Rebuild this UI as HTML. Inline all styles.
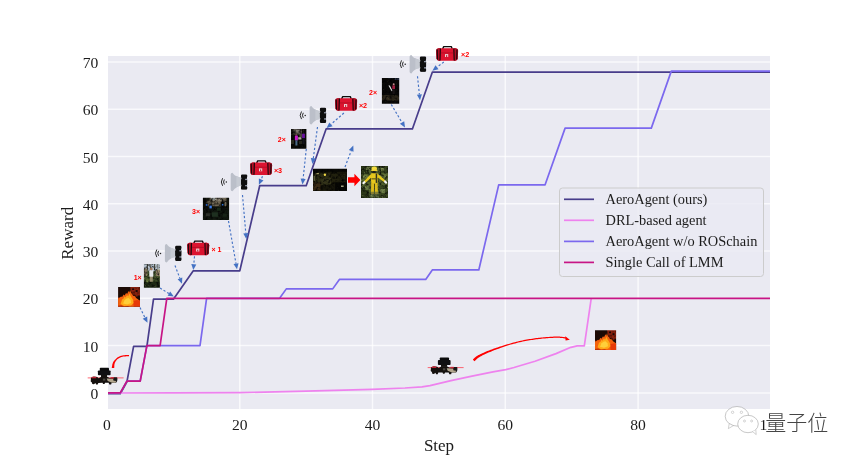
<!DOCTYPE html>
<html><head><meta charset="utf-8"><title>Reward vs Step</title>
<style>
html,body{margin:0;padding:0;background:#fff;}
body{width:856px;height:460px;overflow:hidden;}
svg{display:block;}
text{font-family:"Liberation Serif","Noto Serif CJK SC",serif;fill:#1c1c1c;}
.tick text{font-size:15.6px;}
.grid line{stroke:#fff;stroke-width:1.5;stroke-opacity:0.72;}
.ln{fill:none;stroke-width:1.7;stroke-linejoin:round;}
.da{stroke:#4472c4;stroke-width:1.15;stroke-dasharray:2.2 2;fill:none;}
.ah{fill:#4472c4;}
text.red{font-family:"Liberation Sans",sans-serif;font-weight:bold;fill:#f00;font-size:7.7px;}
</style></head><body>
<svg width="856" height="460" viewBox="0 0 856 460">
<rect width="856" height="460" fill="#fff"/>
<rect x="108" y="56" width="662" height="353" fill="#eaeaf2"/>
<clipPath id="pc"><rect x="108" y="56" width="662" height="353"/></clipPath>
<g class="grid" clip-path="url(#pc)">
<line x1="239.8" y1="56" x2="239.8" y2="409" />
<line x1="372.5" y1="56" x2="372.5" y2="409" />
<line x1="505.3" y1="56" x2="505.3" y2="409" />
<line x1="638.1" y1="56" x2="638.1" y2="409" />
<line x1="770.8" y1="56" x2="770.8" y2="409" />
<line x1="108" y1="392.9" x2="770" y2="392.9" />
<line x1="108" y1="345.6" x2="770" y2="345.6" />
<line x1="108" y1="298.3" x2="770" y2="298.3" />
<line x1="108" y1="251" x2="770" y2="251" />
<line x1="108" y1="203.8" x2="770" y2="203.8" />
<line x1="108" y1="156.5" x2="770" y2="156.5" />
<line x1="108" y1="109.2" x2="770" y2="109.2" />
<line x1="108" y1="61.9" x2="770" y2="61.9" />
</g>
<g clip-path="url(#pc)">
<polyline class="ln" stroke="#483d8b" points="107,393.75 120.3,393.75 126.9,381.93 133.6,346.46 146.9,346.46 153.5,299.18 173.4,299.18 193.3,270.81 239.8,270.81 259.7,185.69 306.2,185.69 326.1,128.95 412.4,128.95 432.3,72.21 774.8,72.21"/>
<polyline class="ln" stroke="#ee82ee" points="108,393 174,392.9 240,392.6 306,391.2 372,389.3 405,388 422,386.9 430,385.6 451,380.6 472,376.1 493,371.9 505.7,369.6 514,367.5 535,361.2 556,353.6 570.9,347.3 577.2,345.8 584.3,345.8 591.2,298.6"/>
<polyline class="ln" stroke="#7b68ee" points="107,392.9 120.3,392.9 126.9,381.08 140.2,381.08 146.9,345.61 200,345.61 206.6,298.33 279.6,298.33 286.3,288.87 332.7,288.87 339.4,279.41 425.7,279.41 432.3,269.96 478.8,269.96 498.7,184.84 545.1,184.84 565.1,128.1 651.3,128.1 671.3,71.12 774.8,71.12"/>
<polyline class="ln" stroke="#c71585" points="107,392.9 120.3,392.9 126.9,381.08 140.2,381.08 146.9,345.61 160.1,345.61 166.8,298.33 774.8,298.33"/>
</g>
<g class="tick">
<text x="107" y="429.5" text-anchor="middle">0</text>
<text x="239.8" y="429.5" text-anchor="middle">20</text>
<text x="372.5" y="429.5" text-anchor="middle">40</text>
<text x="505.3" y="429.5" text-anchor="middle">60</text>
<text x="638.1" y="429.5" text-anchor="middle">80</text>
<text x="98.3" y="398.9" text-anchor="end">0</text>
<text x="98.3" y="351.6" text-anchor="end">10</text>
<text x="98.3" y="304.3" text-anchor="end">20</text>
<text x="98.3" y="257" text-anchor="end">30</text>
<text x="98.3" y="209.8" text-anchor="end">40</text>
<text x="98.3" y="162.5" text-anchor="end">50</text>
<text x="98.3" y="115.2" text-anchor="end">60</text>
<text x="98.3" y="67.9" text-anchor="end">70</text>
</g>
<text x="439" y="450.5" text-anchor="middle" font-size="17">Step</text>
<text transform="translate(73.2,233.3) rotate(-90)" text-anchor="middle" font-size="17">Reward</text>
<g id="legend">
<rect x="559.5" y="188" width="204" height="88.5" rx="3" ry="3" fill="#eaeaf2" fill-opacity="0.8" stroke="#cccccc" stroke-width="1"/>
<line x1="564" y1="199.3" x2="594" y2="199.3" stroke="#483d8b" stroke-width="1.7"/>
<text x="605.5" y="204.1" font-size="14.4">AeroAgent (ours)</text>
<line x1="564" y1="220.3" x2="594" y2="220.3" stroke="#ee82ee" stroke-width="1.7"/>
<text x="605.5" y="225.1" font-size="14.4">DRL-based agent</text>
<line x1="564" y1="241.4" x2="594" y2="241.4" stroke="#7b68ee" stroke-width="1.7"/>
<text x="605.5" y="246.2" font-size="14.4">AeroAgent w/o ROSchain</text>
<line x1="564" y1="262.4" x2="594" y2="262.4" stroke="#c71585" stroke-width="1.7"/>
<text x="605.5" y="267.2" font-size="14.4">Single Call of LMM</text>
</g>
<g id="arrows">
<line class="da" x1="140" y1="307.5" x2="144.9" y2="317.6"/><polygon class="ah" points="147.5,322.8 142.7,318.7 147.2,316.5"/>
<line class="da" x1="160" y1="288" x2="168.9" y2="293.5"/><polygon class="ah" points="173.8,296.6 167.6,295.7 170.2,291.4"/>
<line class="da" x1="175" y1="265.5" x2="179.9" y2="278.4"/><polygon class="ah" points="182,283.8 177.6,279.3 182.3,277.5"/>
<line class="da" x1="194.5" y1="256.3" x2="193.8" y2="264.2"/><polygon class="ah" points="193.3,270 191.3,264 196.3,264.4"/>
<line class="da" x1="228.5" y1="221" x2="236" y2="263.6"/><polygon class="ah" points="237,269.3 233.5,264 238.5,263.2"/>
<line class="da" x1="242.5" y1="195" x2="245.8" y2="233.2"/><polygon class="ah" points="246.3,239 243.3,233.4 248.3,233"/>
<line class="da" x1="262.5" y1="176.3" x2="261.2" y2="179.5"/><polygon class="ah" points="258.9,184.8 258.9,178.5 263.5,180.4"/>
<line class="da" x1="306.3" y1="149" x2="303.1" y2="178.7"/><polygon class="ah" points="302.5,184.5 300.6,178.5 305.6,179"/>
<line class="da" x1="317.5" y1="127" x2="313.3" y2="158.3"/><polygon class="ah" points="312.5,164 310.8,157.9 315.8,158.6"/>
<line class="da" x1="343.9" y1="113" x2="331" y2="124.3"/><polygon class="ah" points="326.6,128.1 329.3,122.4 332.6,126.2"/>
<line class="da" x1="345" y1="167" x2="351.2" y2="150.9"/><polygon class="ah" points="353.3,145.5 353.5,151.8 348.9,150"/>
<line class="da" x1="391.3" y1="104.5" x2="402" y2="122.5"/><polygon class="ah" points="405,127.5 399.9,123.8 404.2,121.2"/>
<line class="da" x1="417.5" y1="76.3" x2="419.4" y2="94.5"/><polygon class="ah" points="420,100.3 416.9,94.8 421.9,94.3"/>
<line class="da" x1="443.8" y1="62" x2="437" y2="67.2"/><polygon class="ah" points="432.4,70.7 435.5,65.2 438.5,69.2"/>
</g>
<defs>
<filter id="soft" x="-0.2" y="-0.2" width="1.4" height="1.4" color-interpolation-filters="sRGB">
<feGaussianBlur in="SourceGraphic" stdDeviation="0.45"/>
</filter>
<filter id="tex" x="0" y="0" width="1" height="1" color-interpolation-filters="sRGB">
<feGaussianBlur in="SourceGraphic" stdDeviation="0.7" result="b"/>
<feTurbulence type="fractalNoise" baseFrequency="0.38" numOctaves="2" seed="7" result="n"/>
<feColorMatrix in="n" type="matrix" values="0 0 0 0 0  0 0 0 0 0  0 0 0 0 0  2.2 0 0 0 -0.95" result="dk"/>
<feColorMatrix in="n" type="matrix" values="0 0 0 0 0.75  0 0 0 0 0.8  0 0 0 0 0.5  0 -2 0 0 0.72" result="lt"/>
<feComposite in="dk" in2="b" operator="atop" result="c1"/>
<feComposite in="lt" in2="c1" operator="atop"/>
</filter>
<filter id="texd" x="0" y="0" width="1" height="1" color-interpolation-filters="sRGB">
<feGaussianBlur in="SourceGraphic" stdDeviation="0.7" result="b"/>
<feTurbulence type="fractalNoise" baseFrequency="0.38" numOctaves="2" seed="11" result="n"/>
<feColorMatrix in="n" type="matrix" values="0 0 0 0 0  0 0 0 0 0  0 0 0 0 0  2.2 0 0 0 -0.9" result="dk"/>
<feColorMatrix in="n" type="matrix" values="0 0 0 0 0.35  0 0 0 0 0.36  0 0 0 0 0.2  0 -2 0 0 0.62" result="lt"/>
<feComposite in="dk" in2="b" operator="atop" result="c1"/>
<feComposite in="lt" in2="c1" operator="atop"/>
</filter>
<filter id="tex2" x="0" y="0" width="1" height="1" color-interpolation-filters="sRGB">
<feGaussianBlur in="SourceGraphic" stdDeviation="0.6" result="b"/>
<feTurbulence type="fractalNoise" baseFrequency="0.4" numOctaves="2" seed="3" result="n"/>
<feColorMatrix in="n" type="matrix" values="0 0 0 0 0.15  0 0 0 0 0.02  0 0 0 0 0  2 0 0 0 -0.95" result="dk"/>
<feComposite in="dk" in2="b" operator="atop"/>
</filter>
</defs>
<g id="icons">
<g transform="translate(154.9,253.3)">
<path d="M1.9,-3.8 Q-0.7,0 1.9,3.8 M3.7,-2.5 Q2,0 3.7,2.5" fill="none" stroke="#1e1e1e" stroke-width="0.95"/>
<circle cx="5.6" cy="0.1" r="0.75" fill="#1e1e1e"/>
<path d="M10,-7.5 Q10,-9.3 11.8,-9.3 C13,-7.5 14.5,-6.3 15.7,-5.9 C17,-5 18.5,-4.4 20.8,-4.2 L20.8,3.7 C18.5,3.8 17,4.5 15.7,5.4 C14.5,6.2 13,7.5 11.8,9.3 Q10,9.3 10,7.5 Z" fill="#bbbfc9"/>
<path d="M15.7,-5.9 C17,-5 18.5,-4.4 20.8,-4.2 L20.8,3.7 C18.5,3.8 17,4.5 15.7,5.4 Z" fill="#c6cad2"/>
<rect x="20.7" y="-7" width="5.5" height="14.2" rx="1.2" fill="#0e0e0e"/>
<rect x="20.3" y="-7.6" width="6.2" height="3.6" rx="1.2" fill="#0e0e0e"/>
<rect x="20.3" y="-3" width="6.2" height="6" rx="1" fill="#0e0e0e"/>
<rect x="20.3" y="4" width="6.2" height="3.6" rx="1.2" fill="#0e0e0e"/>
<rect x="24.4" y="-3.2" width="2.1" height="1.3" fill="#8d93a3"/>
<rect x="24.4" y="3" width="2.1" height="1.3" fill="#8d93a3"/>
</g>
<g transform="translate(220.7,182)">
<path d="M1.9,-3.8 Q-0.7,0 1.9,3.8 M3.7,-2.5 Q2,0 3.7,2.5" fill="none" stroke="#1e1e1e" stroke-width="0.95"/>
<circle cx="5.6" cy="0.1" r="0.75" fill="#1e1e1e"/>
<path d="M10,-7.5 Q10,-9.3 11.8,-9.3 C13,-7.5 14.5,-6.3 15.7,-5.9 C17,-5 18.5,-4.4 20.8,-4.2 L20.8,3.7 C18.5,3.8 17,4.5 15.7,5.4 C14.5,6.2 13,7.5 11.8,9.3 Q10,9.3 10,7.5 Z" fill="#bbbfc9"/>
<path d="M15.7,-5.9 C17,-5 18.5,-4.4 20.8,-4.2 L20.8,3.7 C18.5,3.8 17,4.5 15.7,5.4 Z" fill="#c6cad2"/>
<rect x="20.7" y="-7" width="5.5" height="14.2" rx="1.2" fill="#0e0e0e"/>
<rect x="20.3" y="-7.6" width="6.2" height="3.6" rx="1.2" fill="#0e0e0e"/>
<rect x="20.3" y="-3" width="6.2" height="6" rx="1" fill="#0e0e0e"/>
<rect x="20.3" y="4" width="6.2" height="3.6" rx="1.2" fill="#0e0e0e"/>
<rect x="24.4" y="-3.2" width="2.1" height="1.3" fill="#8d93a3"/>
<rect x="24.4" y="3" width="2.1" height="1.3" fill="#8d93a3"/>
</g>
<g transform="translate(299.6,115.3)">
<path d="M1.9,-3.8 Q-0.7,0 1.9,3.8 M3.7,-2.5 Q2,0 3.7,2.5" fill="none" stroke="#1e1e1e" stroke-width="0.95"/>
<circle cx="5.6" cy="0.1" r="0.75" fill="#1e1e1e"/>
<path d="M10,-7.5 Q10,-9.3 11.8,-9.3 C13,-7.5 14.5,-6.3 15.7,-5.9 C17,-5 18.5,-4.4 20.8,-4.2 L20.8,3.7 C18.5,3.8 17,4.5 15.7,5.4 C14.5,6.2 13,7.5 11.8,9.3 Q10,9.3 10,7.5 Z" fill="#bbbfc9"/>
<path d="M15.7,-5.9 C17,-5 18.5,-4.4 20.8,-4.2 L20.8,3.7 C18.5,3.8 17,4.5 15.7,5.4 Z" fill="#c6cad2"/>
<rect x="20.7" y="-7" width="5.5" height="14.2" rx="1.2" fill="#0e0e0e"/>
<rect x="20.3" y="-7.6" width="6.2" height="3.6" rx="1.2" fill="#0e0e0e"/>
<rect x="20.3" y="-3" width="6.2" height="6" rx="1" fill="#0e0e0e"/>
<rect x="20.3" y="4" width="6.2" height="3.6" rx="1.2" fill="#0e0e0e"/>
<rect x="24.4" y="-3.2" width="2.1" height="1.3" fill="#8d93a3"/>
<rect x="24.4" y="3" width="2.1" height="1.3" fill="#8d93a3"/>
</g>
<g transform="translate(399.6,64.2)">
<path d="M1.9,-3.8 Q-0.7,0 1.9,3.8 M3.7,-2.5 Q2,0 3.7,2.5" fill="none" stroke="#1e1e1e" stroke-width="0.95"/>
<circle cx="5.6" cy="0.1" r="0.75" fill="#1e1e1e"/>
<path d="M10,-7.5 Q10,-9.3 11.8,-9.3 C13,-7.5 14.5,-6.3 15.7,-5.9 C17,-5 18.5,-4.4 20.8,-4.2 L20.8,3.7 C18.5,3.8 17,4.5 15.7,5.4 C14.5,6.2 13,7.5 11.8,9.3 Q10,9.3 10,7.5 Z" fill="#bbbfc9"/>
<path d="M15.7,-5.9 C17,-5 18.5,-4.4 20.8,-4.2 L20.8,3.7 C18.5,3.8 17,4.5 15.7,5.4 Z" fill="#c6cad2"/>
<rect x="20.7" y="-7" width="5.5" height="14.2" rx="1.2" fill="#0e0e0e"/>
<rect x="20.3" y="-7.6" width="6.2" height="3.6" rx="1.2" fill="#0e0e0e"/>
<rect x="20.3" y="-3" width="6.2" height="6" rx="1" fill="#0e0e0e"/>
<rect x="20.3" y="4" width="6.2" height="3.6" rx="1.2" fill="#0e0e0e"/>
<rect x="24.4" y="-3.2" width="2.1" height="1.3" fill="#8d93a3"/>
<rect x="24.4" y="3" width="2.1" height="1.3" fill="#8d93a3"/>
</g>
<g transform="translate(187.2,242.7)">
<path d="M6.4,1 L7.6,-1.6 L15.2,-1.6 L16.2,1" fill="none" stroke="#0c0c0c" stroke-width="1.4" stroke-linejoin="round"/>
<path d="M2.4,0 L19.6,0 Q22,0.2 22,2.6 L21.6,10.4 Q21.4,12.4 19.2,12.5 L2.8,12.5 Q0.6,12.4 0.4,10.4 L0,2.6 Q0,0.2 2.4,0 Z" fill="#dc1430"/>
<path d="M2.4,0 L4.4,0 L4,12.5 L2.8,12.5 Q0.6,12.4 0.4,10.4 L0,2.6 Q0,0.2 2.4,0 Z" fill="#b20f25"/>
<path d="M19.6,0 L17.6,0 L18,12.5 L19.2,12.5 Q21.4,12.4 21.6,10.4 L22,2.6 Q22,0.2 19.6,0 Z" fill="#b20f25"/>
<path d="M1.1,1.2 L1.4,11.2 M4.3,0.2 L3.9,12.3 M17.7,0.2 L18.1,12.3 M20.9,1.2 L20.6,11.2" stroke="#1c080c" stroke-width="1.15" fill="none"/>
<path d="M4.8,4.7 L17.2,4.7" stroke="#a80e22" stroke-width="0.7"/>
<rect x="8.9" y="5.9" width="3.2" height="2.9" fill="#ead6d8"/>
<rect x="10" y="6.9" width="1.1" height="1.9" fill="#c8142c"/>
</g>
<text class="red" x="211.6" y="251.5" textLength="9.9" lengthAdjust="spacingAndGlyphs">× 1</text>
<g transform="translate(250.1,162.5)">
<path d="M6.4,1 L7.6,-1.6 L15.2,-1.6 L16.2,1" fill="none" stroke="#0c0c0c" stroke-width="1.4" stroke-linejoin="round"/>
<path d="M2.4,0 L19.6,0 Q22,0.2 22,2.6 L21.6,10.4 Q21.4,12.4 19.2,12.5 L2.8,12.5 Q0.6,12.4 0.4,10.4 L0,2.6 Q0,0.2 2.4,0 Z" fill="#dc1430"/>
<path d="M2.4,0 L4.4,0 L4,12.5 L2.8,12.5 Q0.6,12.4 0.4,10.4 L0,2.6 Q0,0.2 2.4,0 Z" fill="#b20f25"/>
<path d="M19.6,0 L17.6,0 L18,12.5 L19.2,12.5 Q21.4,12.4 21.6,10.4 L22,2.6 Q22,0.2 19.6,0 Z" fill="#b20f25"/>
<path d="M1.1,1.2 L1.4,11.2 M4.3,0.2 L3.9,12.3 M17.7,0.2 L18.1,12.3 M20.9,1.2 L20.6,11.2" stroke="#1c080c" stroke-width="1.15" fill="none"/>
<path d="M4.8,4.7 L17.2,4.7" stroke="#a80e22" stroke-width="0.7"/>
<rect x="8.9" y="5.9" width="3.2" height="2.9" fill="#ead6d8"/>
<rect x="10" y="6.9" width="1.1" height="1.9" fill="#c8142c"/>
</g>
<text class="red" x="273.9" y="172.7" textLength="8.2" lengthAdjust="spacingAndGlyphs">×3</text>
<g transform="translate(335.1,98.2)">
<path d="M6.4,1 L7.6,-1.6 L15.2,-1.6 L16.2,1" fill="none" stroke="#0c0c0c" stroke-width="1.4" stroke-linejoin="round"/>
<path d="M2.4,0 L19.6,0 Q22,0.2 22,2.6 L21.6,10.4 Q21.4,12.4 19.2,12.5 L2.8,12.5 Q0.6,12.4 0.4,10.4 L0,2.6 Q0,0.2 2.4,0 Z" fill="#dc1430"/>
<path d="M2.4,0 L4.4,0 L4,12.5 L2.8,12.5 Q0.6,12.4 0.4,10.4 L0,2.6 Q0,0.2 2.4,0 Z" fill="#b20f25"/>
<path d="M19.6,0 L17.6,0 L18,12.5 L19.2,12.5 Q21.4,12.4 21.6,10.4 L22,2.6 Q22,0.2 19.6,0 Z" fill="#b20f25"/>
<path d="M1.1,1.2 L1.4,11.2 M4.3,0.2 L3.9,12.3 M17.7,0.2 L18.1,12.3 M20.9,1.2 L20.6,11.2" stroke="#1c080c" stroke-width="1.15" fill="none"/>
<path d="M4.8,4.7 L17.2,4.7" stroke="#a80e22" stroke-width="0.7"/>
<rect x="8.9" y="5.9" width="3.2" height="2.9" fill="#ead6d8"/>
<rect x="10" y="6.9" width="1.1" height="1.9" fill="#c8142c"/>
</g>
<text class="red" x="358.9" y="108.1" textLength="8.2" lengthAdjust="spacingAndGlyphs">×2</text>
<g transform="translate(436.1,48.2)">
<path d="M6.4,1 L7.6,-1.6 L15.2,-1.6 L16.2,1" fill="none" stroke="#0c0c0c" stroke-width="1.4" stroke-linejoin="round"/>
<path d="M2.4,0 L19.6,0 Q22,0.2 22,2.6 L21.6,10.4 Q21.4,12.4 19.2,12.5 L2.8,12.5 Q0.6,12.4 0.4,10.4 L0,2.6 Q0,0.2 2.4,0 Z" fill="#dc1430"/>
<path d="M2.4,0 L4.4,0 L4,12.5 L2.8,12.5 Q0.6,12.4 0.4,10.4 L0,2.6 Q0,0.2 2.4,0 Z" fill="#b20f25"/>
<path d="M19.6,0 L17.6,0 L18,12.5 L19.2,12.5 Q21.4,12.4 21.6,10.4 L22,2.6 Q22,0.2 19.6,0 Z" fill="#b20f25"/>
<path d="M1.1,1.2 L1.4,11.2 M4.3,0.2 L3.9,12.3 M17.7,0.2 L18.1,12.3 M20.9,1.2 L20.6,11.2" stroke="#1c080c" stroke-width="1.15" fill="none"/>
<path d="M4.8,4.7 L17.2,4.7" stroke="#a80e22" stroke-width="0.7"/>
<rect x="8.9" y="5.9" width="3.2" height="2.9" fill="#ead6d8"/>
<rect x="10" y="6.9" width="1.1" height="1.9" fill="#c8142c"/>
</g>
<text class="red" x="461.1" y="56.9" textLength="8.2" lengthAdjust="spacingAndGlyphs">×2</text>
<text class="red" x="133.7" y="279.7" textLength="8" lengthAdjust="spacingAndGlyphs">1×</text>
<text class="red" x="192" y="213.5" textLength="8" lengthAdjust="spacingAndGlyphs">3×</text>
<text class="red" x="277.8" y="142.3" textLength="8" lengthAdjust="spacingAndGlyphs">2×</text>
<text class="red" x="369" y="94.9" textLength="8" lengthAdjust="spacingAndGlyphs">2×</text>
<g transform="translate(90.7,367.8)">
<rect x="9.1" y="0" width="9.2" height="3.4" rx="0.7" fill="#0b0b0b"/>
<rect x="7.2" y="2.6" width="12.7" height="4.8" rx="0.9" fill="#101012"/>
<rect x="10.3" y="7.2" width="6.1" height="2.2" fill="#15120f"/>
<line x1="-3" y1="10.1" x2="32.9" y2="10.1" stroke="#ff2d3d" stroke-width="0.9" stroke-opacity="0.8"/>
<path d="M0.3,10 L3,8.8 L6.5,9.3 L8,10.4 L10.5,9 L16.5,9 L19,10.3 L22.6,9.6 L26.5,9.8 L26.5,13.2 L25.4,15 L21,15 L20.4,16.8 L18.6,16.8 L18,14.9 L14.4,15 L13.8,16.2 L12.4,16.2 L11.8,14.9 L7.6,15.1 L7,16.8 L5.4,16.8 L4.8,15.2 L3.2,16.4 L1.6,16.2 L1.2,14.6 L0,13.6 Z" fill="#15110e"/>
<path d="M16,10.8 L22.4,11 L25.4,13.2 L24.8,15 L20.6,14.8 L17,13.2 Z" fill="#b3a78f"/>
<rect x="22.6" y="9.6" width="3.9" height="3.4" rx="0.7" fill="#161616"/>
<rect x="12.2" y="10.8" width="2.4" height="2" fill="#4a4640"/>
<rect x="1.2" y="8.9" width="4.4" height="1.6" fill="#d9263a" fill-opacity="0.85"/>
<rect x="19.8" y="9.3" width="3.4" height="1.5" fill="#d9263a" fill-opacity="0.85"/>
</g>
<g transform="translate(430.7,357.5)">
<rect x="9.1" y="0" width="9.2" height="3.4" rx="0.7" fill="#0b0b0b"/>
<rect x="7.2" y="2.6" width="12.7" height="4.8" rx="0.9" fill="#101012"/>
<rect x="10.3" y="7.2" width="6.1" height="2.2" fill="#15120f"/>
<line x1="-3" y1="10.1" x2="32.9" y2="10.1" stroke="#ff2d3d" stroke-width="0.9" stroke-opacity="0.8"/>
<path d="M0.3,10 L3,8.8 L6.5,9.3 L8,10.4 L10.5,9 L16.5,9 L19,10.3 L22.6,9.6 L26.5,9.8 L26.5,13.2 L25.4,15 L21,15 L20.4,16.8 L18.6,16.8 L18,14.9 L14.4,15 L13.8,16.2 L12.4,16.2 L11.8,14.9 L7.6,15.1 L7,16.8 L5.4,16.8 L4.8,15.2 L3.2,16.4 L1.6,16.2 L1.2,14.6 L0,13.6 Z" fill="#15110e"/>
<path d="M16,10.8 L22.4,11 L25.4,13.2 L24.8,15 L20.6,14.8 L17,13.2 Z" fill="#b3a78f"/>
<rect x="22.6" y="9.6" width="3.9" height="3.4" rx="0.7" fill="#161616"/>
<rect x="12.2" y="10.8" width="2.4" height="2" fill="#4a4640"/>
<rect x="1.2" y="8.9" width="4.4" height="1.6" fill="#d9263a" fill-opacity="0.85"/>
<rect x="19.8" y="9.3" width="3.4" height="1.5" fill="#d9263a" fill-opacity="0.85"/>
</g>
<path d="M114.2,368.1 L114.2,367.8 L114.3,367.3 L114.3,366.7 L114.3,366.1 L114.3,365.5 L114.4,364.9 L114.4,364.4 L114.5,363.9 L114.7,363.5 L114.8,363.1 L115,362.6 L115.2,362.2 L115.4,361.8 L115.6,361.4 L115.9,361 L116.2,360.7 L116.4,360.3 L116.7,359.9 L117,359.6 L117.4,359.3 L117.7,359 L118.1,358.7 L118.5,358.4 L118.9,358.2 L119.4,357.9 L119.8,357.7 L120.3,357.5 L120.8,357.3 L121.4,357.1 L121.9,356.9 L122.5,356.8 L123.1,356.6 L123.8,356.5 L124.6,356.5 L125.4,356.4 L126.3,356.3 L127.1,356.3 L127.9,356.3 L128.6,356.3 L129,356.2 L129,355 L128.5,355 L127.9,355 L127.1,355 L126.2,355.1 L125.4,355.1 L124.5,355.2 L123.6,355.2 L122.9,355.4 L122.2,355.5 L121.6,355.7 L121,355.8 L120.4,356.1 L119.8,356.3 L119.3,356.5 L118.8,356.8 L118.3,357 L117.8,357.3 L117.3,357.6 L116.9,358 L116.5,358.3 L116.1,358.7 L115.8,359 L115.4,359.4 L115,359.7 L114.7,360.1 L114.4,360.5 L114,360.9 L113.7,361.3 L113.4,361.8 L113.1,362.3 L112.9,362.8 L112.7,363.3 L112.5,363.9 L112.3,364.6 L112.2,365.2 L112.1,365.9 L112,366.5 L111.9,367.1 L111.8,367.5 L111.8,367.9 Z" fill="#f00"/>
<path d="M474.4,361.3 L474.7,361 L475.1,360.7 L475.5,360.2 L476,359.7 L476.6,359.3 L477.1,358.8 L477.6,358.3 L478.1,357.9 L478.7,357.6 L479.2,357.2 L479.7,356.9 L480.3,356.5 L480.9,356.2 L481.5,355.9 L482.2,355.5 L483,355.1 L483.9,354.7 L484.8,354.2 L485.9,353.8 L486.9,353.3 L488,352.8 L489.1,352.3 L490.2,351.9 L491.3,351.4 L492.4,351 L493.5,350.5 L494.6,350.1 L495.7,349.7 L496.8,349.3 L497.9,348.9 L499.2,348.4 L500.4,348 L501.8,347.5 L503.2,347 L504.6,346.6 L506.1,346.1 L507.6,345.6 L509.2,345.1 L510.7,344.6 L512.2,344.2 L513.7,343.8 L515.2,343.4 L516.7,343 L518.2,342.6 L519.7,342.3 L521.2,341.9 L522.7,341.6 L524.1,341.3 L525.5,341 L526.9,340.7 L528.3,340.5 L529.7,340.3 L531.1,340.1 L532.4,339.9 L533.8,339.7 L535.1,339.5 L536.4,339.3 L537.6,339.2 L538.9,339 L540.1,338.9 L541.4,338.7 L542.6,338.6 L543.8,338.5 L545.1,338.4 L546.3,338.3 L547.6,338.2 L548.9,338.1 L550.2,338 L551.5,337.9 L552.7,337.9 L553.9,337.8 L555,337.8 L556,337.8 L557,337.8 L557.9,337.8 L558.8,337.8 L559.7,337.8 L560.5,337.9 L561.2,337.9 L561.9,338 L562.6,338.1 L563.3,338.2 L564,338.3 L564.6,338.4 L565.1,338.5 L565.6,338.6 L566,338.7 L566.4,338.8 L566.6,337.6 L566.3,337.5 L565.9,337.5 L565.4,337.3 L564.8,337.2 L564.2,337.1 L563.5,337 L562.8,336.9 L562.1,336.8 L561.3,336.7 L560.5,336.7 L559.7,336.6 L558.9,336.6 L558,336.6 L557,336.6 L556,336.6 L555,336.6 L553.9,336.6 L552.7,336.7 L551.4,336.7 L550.2,336.8 L548.8,336.9 L547.5,337 L546.2,337.1 L544.9,337.2 L543.7,337.3 L542.5,337.4 L541.2,337.5 L540,337.7 L538.8,337.8 L537.5,338 L536.2,338.1 L534.9,338.3 L533.6,338.5 L532.3,338.7 L530.9,338.9 L529.5,339.1 L528.1,339.3 L526.7,339.6 L525.3,339.8 L523.9,340.1 L522.4,340.4 L520.9,340.7 L519.4,341.1 L517.9,341.4 L516.4,341.8 L514.9,342.2 L513.3,342.6 L511.8,343 L510.3,343.4 L508.8,343.9 L507.3,344.3 L505.7,344.8 L504.2,345.3 L502.7,345.7 L501.3,346.2 L500,346.6 L498.7,347 L497.5,347.4 L496.3,347.8 L495.1,348.2 L494,348.6 L492.9,349 L491.8,349.4 L490.7,349.8 L489.6,350.2 L488.4,350.7 L487.3,351.1 L486.2,351.6 L485.1,352 L484.1,352.5 L483.1,352.9 L482.2,353.3 L481.4,353.7 L480.6,354 L479.9,354.4 L479.3,354.7 L478.6,355 L478,355.3 L477.5,355.7 L476.9,356.1 L476.2,356.5 L475.6,357 L475,357.5 L474.4,358 L473.9,358.5 L473.4,358.9 L473.1,359.2 L472.8,359.5 Z" fill="#f00"/>
<path d="M565.2,336.2 L569.8,339.8 L565.6,340.6 Z" fill="#f00"/>
<g transform="translate(118.1,287)"><clipPath id="f1"><rect width="21.9" height="19.8"/></clipPath>
<g clip-path="url(#f1)"><g filter="url(#tex2)"><rect x="-4" y="-4" width="29.9" height="27.8" fill="#190a05"/>
<path d="M11.5,-4 L26,-4 L26,10 L18,9.5 L14,7 L12.5,3 Z" fill="#86200e"/>
<rect x="14" y="1.5" width="2" height="1.5" fill="#1a0806"/><rect x="17.5" y="3" width="2" height="2" fill="#1a0806"/><rect x="19.5" y="8.5" width="4" height="4.5" fill="#1a0806"/>
<path d="M-4,10 L2,10.5 L3,20 L-4,24 Z" fill="#8a1c08"/>
</g><g filter="url(#soft)"><path d="M-4,24 L-4,13 L1,11 L3,9.5 L4,10 L5.5,7.5 L6.5,8.5 L8,6 L9,7 L10.5,4 L11.2,5.5 L12,3 L13,6 L14,7 L15,8.8 L17,9.3 L18,11 L19.5,12 L22,14 L26,15 L26,24 Z" fill="#f4620e"/>
<path d="M15,14 L19,13 L26,14.5 L26,24 L16,24 Z" fill="#e63a08"/>
<path d="M2.5,17 L4,12.5 L5.5,11.5 L6.5,9.5 L7.5,10.5 L9,8 L10,9.5 L11.5,6.5 L12.5,9 L13.5,10.5 L15,13 L15.5,16 L13,18.5 L6,19 Z" fill="#ffaa18"/>
<path d="M5,16.5 L6.5,13 L8.5,11.5 L10.5,11 L12.5,13 L13,16 L9,17.5 Z" fill="#ffcf3a"/>
<path d="M-2,19 L3,18.2 L6,19.6 L10,19 L12,20.5 L-2,22 Z" fill="#b02808" fill-opacity="0.8"/>
</g></g></g>
<g transform="translate(595,330.2)"><clipPath id="f2"><rect width="21.1" height="19.8"/></clipPath>
<g clip-path="url(#f2)"><g filter="url(#tex2)"><rect x="-4" y="-4" width="29.1" height="27.8" fill="#190a05"/>
<path d="M11.5,-4 L26,-4 L26,10 L18,9.5 L14,7 L12.5,3 Z" fill="#86200e"/>
<rect x="14" y="1.5" width="2" height="1.5" fill="#1a0806"/><rect x="17.5" y="3" width="2" height="2" fill="#1a0806"/><rect x="19.5" y="8.5" width="4" height="4.5" fill="#1a0806"/>
<path d="M-4,10 L2,10.5 L3,20 L-4,24 Z" fill="#8a1c08"/>
</g><g filter="url(#soft)"><path d="M-4,24 L-4,13 L1,11 L3,9.5 L4,10 L5.5,7.5 L6.5,8.5 L8,6 L9,7 L10.5,4 L11.2,5.5 L12,3 L13,6 L14,7 L15,8.8 L17,9.3 L18,11 L19.5,12 L22,14 L26,15 L26,24 Z" fill="#f4620e"/>
<path d="M15,14 L19,13 L26,14.5 L26,24 L16,24 Z" fill="#e63a08"/>
<path d="M2.5,17 L4,12.5 L5.5,11.5 L6.5,9.5 L7.5,10.5 L9,8 L10,9.5 L11.5,6.5 L12.5,9 L13.5,10.5 L15,13 L15.5,16 L13,18.5 L6,19 Z" fill="#ffaa18"/>
<path d="M5,16.5 L6.5,13 L8.5,11.5 L10.5,11 L12.5,13 L13,16 L9,17.5 Z" fill="#ffcf3a"/>
<path d="M-2,19 L3,18.2 L6,19.6 L10,19 L12,20.5 L-2,22 Z" fill="#b02808" fill-opacity="0.8"/>
</g></g></g>
<g transform="translate(143.9,264.1)"><clipPath id="p1"><rect width="16" height="23.6"/></clipPath>
<g clip-path="url(#p1)"><g filter="url(#tex)"><rect x="-4" y="-4" width="24" height="31.6" fill="#3c4a28"/>
<rect x="-4" y="-4" width="24" height="11" fill="#b8c4d0"/>
<rect x="-1" y="4.5" width="4.3" height="7.5" fill="#84745c"/><rect x="12" y="5.5" width="6" height="7.5" fill="#96866a"/>
<rect x="3" y="-2" width="1" height="9" fill="#3c3c34"/><rect x="6" y="-2" width="0.8" height="7" fill="#55554a"/><rect x="10.2" y="-2" width="1" height="8" fill="#3c3c34"/><rect x="13.5" y="-2" width="0.8" height="6" fill="#5a5a50"/>
<rect x="-2" y="12" width="20" height="6" fill="#43522a"/>
<rect x="-2" y="17.5" width="20" height="9" fill="#1e2a14"/>
<rect x="2" y="15" width="4" height="3" fill="#5a6a34"/><rect x="10.5" y="14" width="4" height="3.5" fill="#2a3a1c"/>
</g><g filter="url(#soft)"><rect x="5.4" y="6.2" width="4" height="6.6" rx="1" fill="#e6e8ea"/>
<circle cx="7.4" cy="4.9" r="1.3" fill="#a87c5c"/>
<rect x="5.9" y="12.6" width="3" height="5" fill="#968c6c"/>
</g></g></g>
<g transform="translate(202.9,197.8)"><clipPath id="p2"><rect width="26.2" height="22.1"/></clipPath>
<g clip-path="url(#p2)"><g filter="url(#texd)"><rect x="-4" y="-4" width="34.2" height="30.1" fill="#0e130c"/>
<rect x="3.5" y="-1" width="21" height="9.5" fill="#6e6552"/>
<rect x="8.2" y="-2" width="4.5" height="4.5" fill="#c8d0cc"/>
<rect x="13" y="0" width="8" height="3" fill="#8a8272"/>
<rect x="-2" y="-2" width="5" height="26" fill="#0a0c08"/>
<rect x="3.2" y="-1" width="3.6" height="4" fill="#14160e"/>
<rect x="7.8" y="1" width="0.9" height="7" fill="#1a1a12"/><rect x="19.4" y="1" width="0.9" height="5" fill="#1a1a12"/><rect x="23.5" y="-1" width="4" height="10" fill="#12140c"/>
<rect x="-2" y="12" width="30" height="12" fill="#10170f"/>
<rect x="2.5" y="5.5" width="2.6" height="7.5" fill="#0c100e"/><rect x="6" y="6.5" width="3.4" height="7" fill="#0c100e"/><rect x="17.8" y="4" width="3.8" height="9" fill="#0a0e0c"/>
</g><g filter="url(#soft)"><rect x="2.9" y="6.3" width="1.7" height="1.7" fill="#2b5fc0"/><rect x="6.5" y="7.8" width="2.4" height="2.8" fill="#3a7ae8"/><rect x="19" y="6.2" width="1.5" height="1.5" fill="#2a6fd0"/>
<rect x="9" y="14.5" width="6" height="4.5" fill="#1e3020"/><rect x="3" y="15.5" width="4" height="3" fill="#2a2e28"/><rect x="14" y="10" width="4" height="3" fill="#182818"/><rect x="20" y="16" width="4" height="3" fill="#162216"/>
</g></g></g>
<g transform="translate(291,129)"><clipPath id="p3"><rect width="15.4" height="19.8"/></clipPath>
<g clip-path="url(#p3)"><g filter="url(#texd)"><rect x="-4" y="-4" width="23.4" height="27.8" fill="#0b0c08"/>
<rect x="2.5" y="-1" width="10" height="6.5" fill="#56504a"/>
<rect x="5" y="1" width="4" height="3" fill="#807a70"/>
<rect x="-2" y="-2" width="4" height="8" fill="#1c1c14"/>
<rect x="11" y="-2" width="1.3" height="7" fill="#101008"/>
</g><g filter="url(#soft)"><rect x="7.2" y="8.2" width="3.2" height="2.3" fill="#b0a8a0"/>
<rect x="8.5" y="5" width="3" height="3" fill="#4a463c"/>
<circle cx="5.3" cy="5.7" r="1" fill="#6a4a40"/>
<rect x="3.9" y="6.6" width="3" height="4.8" fill="#c818c8"/>
<rect x="11.1" y="4.7" width="2.8" height="4.4" fill="#6a12a0"/>
<rect x="4.4" y="11.3" width="2" height="5.2" fill="#4a6a88"/>
<rect x="11.4" y="9" width="2.2" height="6" fill="#14141c"/>
<rect x="0" y="11" width="3" height="4" fill="#2a2a1e"/><rect x="8" y="12" width="3" height="3" fill="#26261c"/>
</g></g></g>
<g transform="translate(381.9,78)"><clipPath id="p4"><rect width="17.3" height="25.8"/></clipPath>
<g clip-path="url(#p4)"><g filter="url(#texd)"><rect x="-4" y="-4" width="25.3" height="33.8" fill="#0a0908"/>
<rect x="-2" y="17" width="22" height="5.5" fill="#2a2418"/>
<rect x="2" y="19" width="6" height="2.5" fill="#3a3222"/>
<rect x="12.9" y="-2" width="6" height="3.6" fill="#3a4a6a"/>
<rect x="6" y="-2" width="5" height="3" fill="#141a24"/>
</g><g filter="url(#soft)"><path d="M6.5,7.6 L8,7.4 L10.6,12.7 L9.8,13.2 Z" fill="#e4e4e4"/>
<rect x="10.4" y="7.4" width="2.7" height="3.6" fill="#a02040"/>
<circle cx="11.8" cy="6.3" r="1" fill="#c08888"/>
<rect x="10.6" y="11" width="2.2" height="5" fill="#1a1416"/>
</g></g></g>
<g transform="translate(313,168.8)"><clipPath id="p5"><rect width="34" height="22.1"/></clipPath>
<g clip-path="url(#p5)"><g filter="url(#texd)"><rect x="-4" y="-4" width="42" height="30.1" fill="#18170a"/>
<rect x="-2" y="-2" width="38" height="5" fill="#090905"/>
<rect x="2" y="4.5" width="15" height="10" fill="#2c2c13"/>
<rect x="18" y="5" width="14" height="9" fill="#22210e"/>
<rect x="8" y="9" width="10" height="7" fill="#34341a"/>
<rect x="22" y="13.5" width="14" height="10" fill="#070704"/>
<rect x="14" y="16" width="8" height="6" fill="#16150a"/>
<rect x="-1" y="13.5" width="8.5" height="8" fill="#3a2a14"/>
</g><g filter="url(#soft)"><circle cx="11.9" cy="6" r="1.2" fill="#f0d848"/>
<rect x="3.5" y="4.2" width="2.4" height="1.2" fill="#a09860"/>
<rect x="28" y="16.8" width="2.6" height="1.2" fill="#c8c8a0"/>
<rect x="0.5" y="7" width="1.5" height="5" fill="#5a5a3a"/>
</g></g></g>
<polygon points="348,177.2 354.4,177.2 354.4,173.8 360.4,180 354.4,186.2 354.4,182.8 348,182.8" fill="#f00"/>
<g transform="translate(361,165.9)"><clipPath id="p6"><rect width="27" height="32.1"/></clipPath>
<g clip-path="url(#p6)"><g filter="url(#tex)"><rect x="-4" y="-4" width="35" height="40.1" fill="#52622e"/>
<rect x="-2" y="-2" width="10" height="10" fill="#2a3618"/><rect x="18" y="-2" width="12" height="9" fill="#33401d"/>
<rect x="-2" y="21" width="10" height="14" fill="#2c3818"/><rect x="18" y="19" width="12" height="15" fill="#3a4820"/>
<rect x="2" y="9" width="6" height="5" fill="#66763c"/><rect x="19" y="8" width="6" height="5" fill="#5e6e38"/>
<rect x="4" y="20" width="5" height="4" fill="#6a7a42"/><rect x="19" y="23" width="5" height="4" fill="#71814a"/><rect x="8" y="27" width="10" height="6" fill="#55653a"/>
<rect x="5" y="1" width="4" height="3" fill="#6a7a44"/><rect x="20" y="2" width="3" height="3" fill="#7a8a4e"/>
</g><g filter="url(#soft)"><ellipse cx="13.3" cy="2.8" rx="2.7" ry="2.1" fill="#f4dc40"/>
<rect x="10.2" y="3.9" width="6.2" height="1.3" rx="0.6" fill="#eed236"/>
<rect x="12.1" y="5.2" width="2.7" height="3.4" fill="#1e1e16"/>
<path d="M10.2,7.4 L16.6,7.4 L16.9,12.5 L16.4,17.6 L10.3,17.6 L9.9,12.5 Z" fill="#e6c81e"/>
<path d="M10.4,7.5 L3.2,15.2 L4.5,16.8 L10.8,11 Z" fill="#e6c81e"/>
<path d="M16.4,7.6 L24.2,14.4 L23,16.2 L16.2,11 Z" fill="#e6c81e"/>
<path d="M3.4,14.8 L1,17.2 L2.4,18.6 L4.7,16.6 Z" fill="#f6f6f2"/>
<path d="M24,14 L26.4,16.6 L25.1,18 L22.8,16 Z" fill="#f6f6f2"/>
<path d="M10.2,17.2 L13.1,17.2 L12.9,26 L10,26 Z" fill="#dcbc1a"/><path d="M13.7,17.2 L16.5,17.2 L16.9,26 L14,26 Z" fill="#dcbc1a"/>
<rect x="14.7" y="7.6" width="1.4" height="9.4" fill="#34341c"/><rect x="10.4" y="12.4" width="6.3" height="1.1" fill="#5a541c"/>
<rect x="10" y="25.8" width="2.9" height="2.4" fill="#8a8030"/><rect x="14" y="25.8" width="2.9" height="2.4" fill="#8a8030"/>
</g></g></g>
</g>
<g>
<ellipse cx="737" cy="416.3" rx="11.8" ry="9.8" fill="#fff" stroke="#a2a2a2" stroke-width="0.6"/>
<path d="M729.2,423.6 L728.4,428.6 L733.4,425.6 Z" fill="#fff" stroke="#a2a2a2" stroke-width="0.5"/>
<ellipse cx="748" cy="424" rx="10.3" ry="8.7" fill="#fff" stroke="#a2a2a2" stroke-width="0.6"/>
<path d="M752.6,431.6 L756.2,434.6 L755.8,430" fill="#fff" stroke="#a2a2a2" stroke-width="0.5"/>
<circle cx="732.6" cy="412.3" r="1.2" fill="#fff" stroke="#aaa" stroke-width="0.5"/><circle cx="741.4" cy="412.3" r="1.2" fill="#fff" stroke="#aaa" stroke-width="0.5"/>
<circle cx="744.5" cy="421" r="1" fill="#fff" stroke="#aaa" stroke-width="0.5"/><circle cx="751.6" cy="421" r="1" fill="#fff" stroke="#aaa" stroke-width="0.5"/>
<text x="765.2" y="430.2" font-size="21" style="font-family:'Liberation Sans','Noto Sans CJK SC',sans-serif;font-weight:300;fill:#454545;stroke:#fff;stroke-width:2.5;paint-order:stroke;">量子位</text>
</g>
<text x="759.4" y="429.5" font-size="15.6">1</text>
</svg>
</body></html>
